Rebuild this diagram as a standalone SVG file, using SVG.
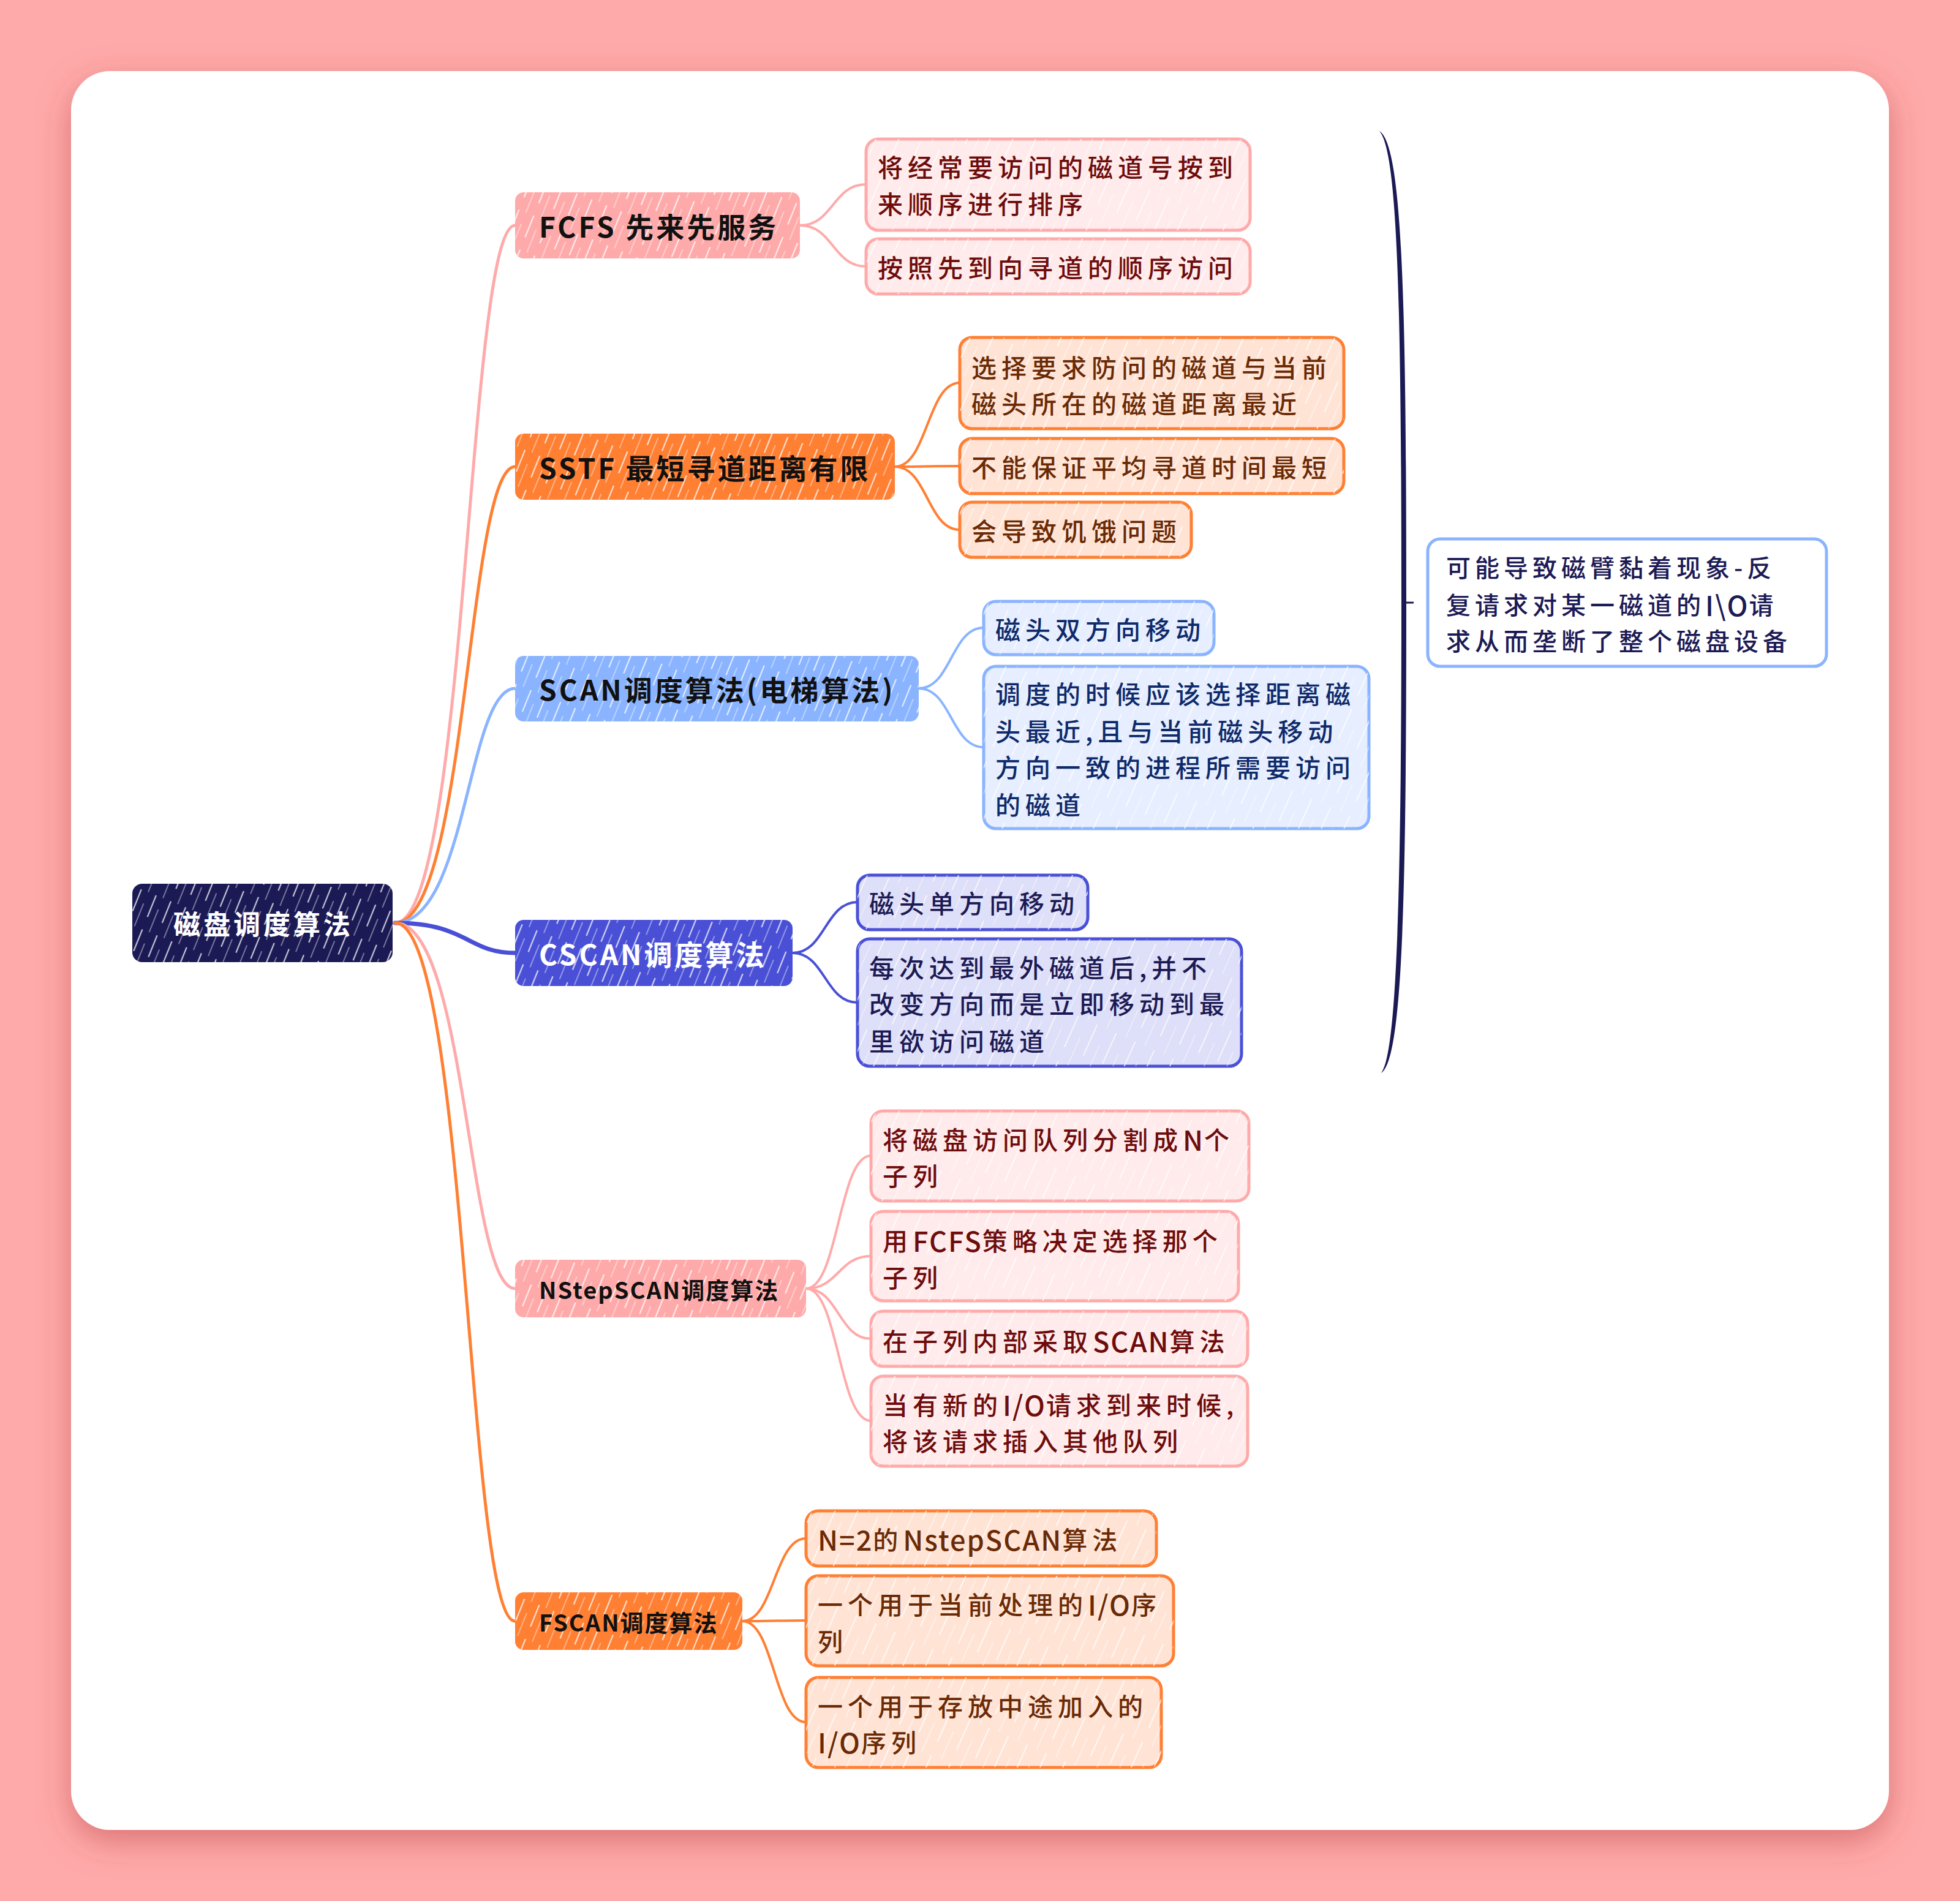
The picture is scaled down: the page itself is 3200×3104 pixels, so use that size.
<svg xmlns="http://www.w3.org/2000/svg" width="3200" height="3104" viewBox="0 0 3200 3104">
<defs>
<filter id="shadow" x="-5%" y="-5%" width="110%" height="115%">
<feDropShadow dx="0" dy="18" stdDeviation="26" flood-color="#B83A3A" flood-opacity="0.5"/>
</filter>
<pattern id="hatchMain" width="26" height="60" patternUnits="userSpaceOnUse" patternTransform="rotate(22)">
<line x1="4" y1="0" x2="4" y2="38" stroke="#FFFFFF" stroke-width="2.2" stroke-opacity="0.75"/>
<line x1="16" y1="20" x2="16" y2="60" stroke="#FFFFFF" stroke-width="1.6" stroke-opacity="0.5"/>
</pattern>
<pattern id="hatchChild" width="34" height="80" patternUnits="userSpaceOnUse" patternTransform="rotate(24)">
<line x1="5" y1="0" x2="5" y2="55" stroke="#FFFFFF" stroke-width="2" stroke-opacity="0.7"/>
<line x1="22" y1="30" x2="22" y2="80" stroke="#FFFFFF" stroke-width="1.5" stroke-opacity="0.5"/>
</pattern>
<style>
.main{font-family:"Noto Sans CJK SC","Noto Sans",sans-serif;font-weight:700;font-size:46px;letter-spacing:4px;fill:#111111;}
.mainS{font-family:"Noto Sans CJK SC","Noto Sans",sans-serif;font-weight:700;font-size:38px;letter-spacing:2px;fill:#111111;}
.white{fill:#FFFFFF;}
.child{font-family:"Noto Sans CJK SC","Noto Sans",sans-serif;font-weight:500;font-size:41px;letter-spacing:8px;}
.sum{font-family:"Noto Sans CJK SC","Noto Sans",sans-serif;font-weight:500;font-size:40px;letter-spacing:7px;fill:#1C1A55;}
.lat{font-size:45px;letter-spacing:2px;font-weight:500;}
.h{fill:url(#hatchMain);}
.hc{fill:url(#hatchChild);}
.conn{fill:none;stroke-linecap:round;}
.cPink{stroke:#FFAAAA;}
.cOrange{stroke:#FF7F33;}
.cBlue{stroke:#8AB4FF;}
.cIndigo{stroke:#4A50D6;}
.bPink{fill:#FFEBEB;stroke:#FFAAAA;stroke-width:5;}
.bOrange{fill:#FFE4D6;stroke:#FF7F33;stroke-width:5;}
.bBlue{fill:#E6EEFF;stroke:#8AB4FF;stroke-width:5;}
.bIndigo{fill:#DEDFF8;stroke:#4A50D6;stroke-width:5;}
.tPink{fill:#6E0C0C;}
.tOrange{fill:#6A2A05;}
.tBlue{fill:#0E2A6A;}
.tIndigo{fill:#1C1A55;}
</style>
</defs>
<rect x="0" y="0" width="3200" height="3104" fill="#FFAAAA"/>
<rect x="116" y="116" width="2968" height="2872" rx="64" fill="#FFFFFF" filter="url(#shadow)"/>

<g id="connectors">
<path class="conn cPink" stroke-width="5" d="M645,1507 C763,1507 763,368 841,368"/>
<path class="conn cOrange" stroke-width="5" d="M645,1507 C763,1507 763,762 841,762"/>
<path class="conn cBlue" stroke-width="5" d="M645,1507 C763,1507 763,1124 841,1124"/>
<path class="conn cIndigo" stroke-width="7" d="M645,1507 C763,1507 763,1556 841,1556"/>
<path class="conn cPink" stroke-width="5" d="M645,1507 C763,1507 763,2104 841,2104"/>
<path class="conn cOrange" stroke-width="5" d="M645,1507 C763,1507 763,2647 841,2647"/>

<path class="conn cPink" stroke-width="4" d="M1306,368 C1360,368 1360,301 1414,301"/>
<path class="conn cPink" stroke-width="4" d="M1306,368 C1360,368 1360,435 1414,435"/>

<path class="conn cOrange" stroke-width="4" d="M1461,762 C1514,762 1514,625 1567,625"/>
<path class="conn cOrange" stroke-width="4" d="M1461,762 C1514,762 1514,761 1567,761"/>
<path class="conn cOrange" stroke-width="4" d="M1461,762 C1514,762 1514,865 1567,865"/>

<path class="conn cBlue" stroke-width="4" d="M1500,1124 C1553,1124 1553,1025 1606,1025"/>
<path class="conn cBlue" stroke-width="4" d="M1500,1124 C1553,1124 1553,1220 1606,1220"/>

<path class="conn cIndigo" stroke-width="4" d="M1294,1556 C1347,1556 1347,1473 1400,1473"/>
<path class="conn cIndigo" stroke-width="4" d="M1294,1556 C1347,1556 1347,1637 1400,1637"/>

<path class="conn cPink" stroke-width="4" d="M1316,2104 C1369,2104 1369,1887 1422,1887"/>
<path class="conn cPink" stroke-width="4" d="M1316,2104 C1369,2104 1369,2051 1422,2051"/>
<path class="conn cPink" stroke-width="4" d="M1316,2104 C1369,2104 1369,2186 1422,2186"/>
<path class="conn cPink" stroke-width="4" d="M1316,2104 C1369,2104 1369,2320 1422,2320"/>

<path class="conn cOrange" stroke-width="4" d="M1212,2647 C1264,2647 1264,2512 1316,2512"/>
<path class="conn cOrange" stroke-width="4" d="M1212,2647 C1264,2647 1264,2646 1316,2646"/>
<path class="conn cOrange" stroke-width="4" d="M1212,2647 C1264,2647 1264,2812 1316,2812"/>

<path fill="#1C1A55" d="M2252,214 C2290,236 2296,500 2296,984 C2296,1468 2290,1730 2255,1752 C2280,1722 2288,1468 2288,984 C2288,500 2282,246 2252,214 Z"/>
<line x1="2292" y1="984" x2="2308" y2="984" stroke="#1C1A55" stroke-width="3"/>
</g>

<g id="root">
<rect x="216" y="1443" width="425" height="128" rx="16" fill="#1C1A55"/>
<rect x="216" y="1443" width="425" height="128" rx="16" class="h"/>
<text x="430" y="1507" class="main white" text-anchor="middle" dominant-baseline="central" style="font-size:44px;letter-spacing:5px">磁盘调度算法</text>
</g>

<g id="fcfs">
<rect x="841" y="314" width="465" height="108" rx="14" fill="#FFAAAA"/>
<rect x="841" y="314" width="465" height="108" rx="14" class="h"/>
<text x="880" y="368" class="main" dominant-baseline="central">FCFS 先来先服务</text>
</g>
<g id="fcfs-1">
<rect x="1414" y="227" width="627" height="149" rx="20" class="bPink"/>
<rect x="1414" y="227" width="627" height="149" rx="20" class="hc"/>
<text class="child tPink" dominant-baseline="central"><tspan x="1433" y="271">将经常要访问的磁道号按到</tspan><tspan x="1433" y="331">来顺序进行排序</tspan></text>
</g>
<g id="fcfs-2">
<rect x="1414" y="390" width="627" height="90" rx="20" class="bPink"/>
<rect x="1414" y="390" width="627" height="90" rx="20" class="hc"/>
<text x="1433" y="435" class="child tPink" dominant-baseline="central">按照先到向寻道的顺序访问</text>
</g>

<g id="sstf">
<rect x="841" y="708" width="620" height="108" rx="14" fill="#FF7F33"/>
<rect x="841" y="708" width="620" height="108" rx="14" class="h"/>
<text x="880" y="762" class="main" dominant-baseline="central">SSTF 最短寻道距离有限</text>
</g>
<g id="sstf-1">
<rect x="1567" y="551" width="627" height="149" rx="20" class="bOrange"/>
<rect x="1567" y="551" width="627" height="149" rx="20" class="hc"/>
<text class="child tOrange" dominant-baseline="central"><tspan x="1586" y="598">选择要求防问的磁道与当前</tspan><tspan x="1586" y="657">磁头所在的磁道距离最近</tspan></text>
</g>
<g id="sstf-2">
<rect x="1567" y="716" width="627" height="90" rx="20" class="bOrange"/>
<rect x="1567" y="716" width="627" height="90" rx="20" class="hc"/>
<text x="1586" y="761" class="child tOrange" dominant-baseline="central">不能保证平均寻道时间最短</text>
</g>
<g id="sstf-3">
<rect x="1567" y="820" width="378" height="90" rx="20" class="bOrange"/>
<rect x="1567" y="820" width="378" height="90" rx="20" class="hc"/>
<text x="1586" y="865" class="child tOrange" dominant-baseline="central">会导致饥饿问题</text>
</g>

<g id="scan">
<rect x="841" y="1071" width="659" height="107" rx="14" fill="#8AB4FF"/>
<rect x="841" y="1071" width="659" height="107" rx="14" class="h"/>
<text x="880" y="1124" class="main" dominant-baseline="central">SCAN调度算法(电梯算法)</text>
</g>
<g id="scan-1">
<rect x="1606" y="982" width="376" height="87" rx="20" class="bBlue"/>
<rect x="1606" y="982" width="376" height="87" rx="20" class="hc"/>
<text x="1625" y="1026" class="child tBlue" dominant-baseline="central">磁头双方向移动</text>
</g>
<g id="scan-2">
<rect x="1606" y="1088" width="629" height="265" rx="20" class="bBlue"/>
<rect x="1606" y="1088" width="629" height="265" rx="20" class="hc"/>
<text class="child tBlue" dominant-baseline="central"><tspan x="1625" y="1131">调度的时候应该选择距离磁</tspan><tspan x="1625" y="1192">头最近,且与当前磁头移动</tspan><tspan x="1625" y="1251">方向一致的进程所需要访问</tspan><tspan x="1625" y="1312">的磁道</tspan></text>
</g>

<g id="cscan">
<rect x="841" y="1502" width="453" height="108" rx="14" fill="#4A50D6"/>
<rect x="841" y="1502" width="453" height="108" rx="14" class="h"/>
<text x="880" y="1556" class="main white" dominant-baseline="central">CSCAN调度算法</text>
</g>
<g id="cscan-1">
<rect x="1400" y="1429" width="376" height="89" rx="20" class="bIndigo"/>
<rect x="1400" y="1429" width="376" height="89" rx="20" class="hc"/>
<text x="1419" y="1473" class="child tIndigo" dominant-baseline="central">磁头单方向移动</text>
</g>
<g id="cscan-2">
<rect x="1400" y="1533" width="627" height="208" rx="20" class="bIndigo"/>
<rect x="1400" y="1533" width="627" height="208" rx="20" class="hc"/>
<text class="child tIndigo" dominant-baseline="central"><tspan x="1419" y="1578">每次达到最外磁道后,并不</tspan><tspan x="1419" y="1637">改变方向而是立即移动到最</tspan><tspan x="1419" y="1698">里欲访问磁道</tspan></text>
</g>

<g id="nstepscan">
<rect x="841" y="2057" width="475" height="94" rx="14" fill="#FFAAAA"/>
<rect x="841" y="2057" width="475" height="94" rx="14" class="h"/>
<text x="880" y="2104" class="mainS" dominant-baseline="central">NStepSCAN调度算法</text>
</g>
<g id="nstep-1">
<rect x="1422" y="1814" width="617" height="147" rx="20" class="bPink"/>
<rect x="1422" y="1814" width="617" height="147" rx="20" class="hc"/>
<text class="child tPink" dominant-baseline="central"><tspan x="1441" y="1859">将磁盘访问队列分割成<tspan class="lat">N</tspan>个</tspan><tspan x="1441" y="1918">子列</tspan></text>
</g>
<g id="nstep-2">
<rect x="1422" y="1978" width="600" height="146" rx="20" class="bPink"/>
<rect x="1422" y="1978" width="600" height="146" rx="20" class="hc"/>
<text class="child tPink" dominant-baseline="central"><tspan x="1441" y="2024">用<tspan class="lat">FCFS</tspan>策略决定选择那个</tspan><tspan x="1441" y="2084">子列</tspan></text>
</g>
<g id="nstep-3">
<rect x="1422" y="2141" width="615" height="90" rx="20" class="bPink"/>
<rect x="1422" y="2141" width="615" height="90" rx="20" class="hc"/>
<text x="1441" y="2188" class="child tPink" dominant-baseline="central">在子列内部采取<tspan class="lat">SCAN</tspan>算法</text>
</g>
<g id="nstep-4">
<rect x="1422" y="2247" width="615" height="147" rx="20" class="bPink"/>
<rect x="1422" y="2247" width="615" height="147" rx="20" class="hc"/>
<text class="child tPink" dominant-baseline="central"><tspan x="1441" y="2292">当有新的<tspan class="lat">I/O</tspan>请求到来时候,</tspan><tspan x="1441" y="2351">将该请求插入其他队列</tspan></text>
</g>

<g id="fscan">
<rect x="841" y="2600" width="371" height="94" rx="14" fill="#FF7F33"/>
<rect x="841" y="2600" width="371" height="94" rx="14" class="h"/>
<text x="880" y="2647" class="mainS" dominant-baseline="central">FSCAN调度算法</text>
</g>
<g id="fscan-1">
<rect x="1316" y="2467" width="572" height="90" rx="20" class="bOrange"/>
<rect x="1316" y="2467" width="572" height="90" rx="20" class="hc"/>
<text x="1335" y="2512" class="child tOrange" dominant-baseline="central"><tspan class="lat">N=2</tspan>的<tspan class="lat">NstepSCAN</tspan>算法</text>
</g>
<g id="fscan-2">
<rect x="1316" y="2573" width="600" height="147" rx="20" class="bOrange"/>
<rect x="1316" y="2573" width="600" height="147" rx="20" class="hc"/>
<text class="child tOrange" dominant-baseline="central"><tspan x="1335" y="2618">一个用于当前处理的<tspan class="lat">I/O</tspan>序</tspan><tspan x="1335" y="2678">列</tspan></text>
</g>
<g id="fscan-3">
<rect x="1316" y="2739" width="580" height="147" rx="20" class="bOrange"/>
<rect x="1316" y="2739" width="580" height="147" rx="20" class="hc"/>
<text class="child tOrange" dominant-baseline="central"><tspan x="1335" y="2784">一个用于存放中途加入的</tspan><tspan x="1335" y="2843"><tspan class="lat">I/O</tspan>序列</tspan></text>
</g>

<g id="summary">
<rect x="2331" y="880" width="651" height="208" rx="20" fill="#FFFFFF" stroke="#8AB4FF" stroke-width="5"/>
<text class="sum" dominant-baseline="central"><tspan x="2361" y="925">可能导致磁臂黏着现象-反</tspan><tspan x="2361" y="986">复请求对某一磁道的<tspan class="lat">I\O</tspan>请</tspan><tspan x="2361" y="1045">求从而垄断了整个磁盘设备</tspan></text>
</g>
</svg>
